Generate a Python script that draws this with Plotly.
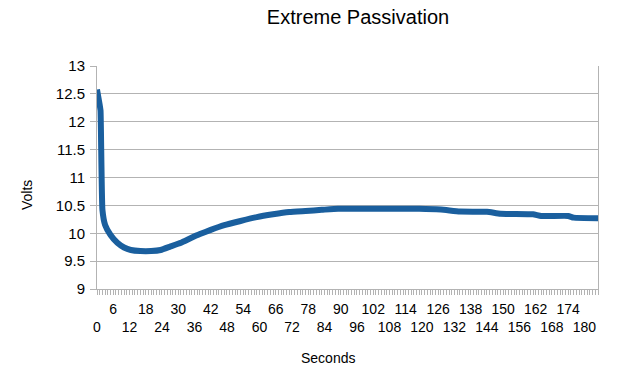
import plotly.graph_objects as go

# Data
seconds = [0, 1, 1.3, 2, 3, 5, 7.5, 10, 12.5, 16, 20, 23.5, 27, 31, 34.5, 38, 42, 47, 53,
           59, 65, 71, 77, 83, 89, 100, 112, 119, 127, 134, 144, 149, 161, 164, 174, 176, 185]
volts = [12.58, 12.3, 12.2, 10.42, 10.15, 9.97, 9.83, 9.745, 9.70, 9.68, 9.68, 9.70, 9.76,
         9.83, 9.91, 9.985, 10.06, 10.145, 10.22, 10.29, 10.34, 10.38, 10.40, 10.42, 10.44,
         10.44, 10.44, 10.44, 10.425, 10.39, 10.385, 10.35, 10.34, 10.31, 10.31, 10.28, 10.27]

upper_ticks = list(range(6, 181, 12))
lower_ticks = list(range(0, 181, 12))
y_ticks = [9, 9.5, 10, 10.5, 11, 11.5, 12, 12.5, 13]

title_text = "Extreme Passivation"
x_title = "Seconds"
y_title = "Volts"

font_family = "Liberation Sans, Arial, sans-serif"
grid = "#b3b3b3"

# plot area in pixels
L, R, T, B = 97, 598, 66, 289
W, H = 624, 378
pw, ph = R - L, B - T

tickvals = sorted(upper_ticks + lower_ticks)
ticktext = [str(v) if v in upper_ticks else "\u00a0<br>" + str(v) for v in tickvals]

fig = go.Figure()
fig.add_trace(go.Scatter(x=seconds, y=volts, mode="lines",
                         line=dict(color="#1a5f9e", width=6, shape="spline", smoothing=0.4),
                         showlegend=False, hoverinfo="x+y"))

fig.update_layout(
    width=W, height=H,
    margin=dict(l=L, r=W - R, t=T, b=H - B),
    paper_bgcolor="white", plot_bgcolor="white",
    font=dict(family=font_family, size=14, color="#000000"),
    title=dict(text=title_text, x=358 / W, xanchor="center", xref="container",
               y=1 - 17 / H, yanchor="middle", yref="container",
               font=dict(size=20, family=font_family, color="#000000")),
    xaxis=dict(range=[0, 185], tickmode="array", tickvals=tickvals, ticktext=ticktext,
               showgrid=False, zeroline=False, showline=True, linecolor=grid, linewidth=1,
               mirror=False, ticks="outside", ticklen=5, tickcolor=grid, tickwidth=1,
               tickangle=0, tickfont=dict(size=14), ticklabelstandoff=2,
               minor=dict(dtick=1, tick0=0, ticks="outside", ticklen=5, tickcolor=grid,
                          tickwidth=1, showgrid=False)),
    yaxis=dict(range=[9, 13], tickmode="array", tickvals=y_ticks,
               ticktext=[("%g" % v) for v in y_ticks],
               showgrid=True, gridcolor=grid, gridwidth=1, zeroline=False,
               showline=True, linecolor=grid, linewidth=1, mirror=True,
               ticks="outside", ticklen=6, tickcolor=grid, tickfont=dict(size=15),
               ticklabelstandoff=2),
    annotations=[
        dict(text=x_title, x=(328 - L) / pw, y=(B - 358) / ph, xref="paper", yref="paper",
             showarrow=False, xanchor="center", yanchor="middle", font=dict(size=14)),
        dict(text=y_title, x=(27 - L) / pw, y=(B - 195) / ph, xref="paper", yref="paper",
             showarrow=False, xanchor="center", yanchor="middle", textangle=-90,
             font=dict(size=14)),
    ],
)

fig.write_html("out.html", config={"displayModeBar": False},
               post_script="document.body.style.margin='0';")
